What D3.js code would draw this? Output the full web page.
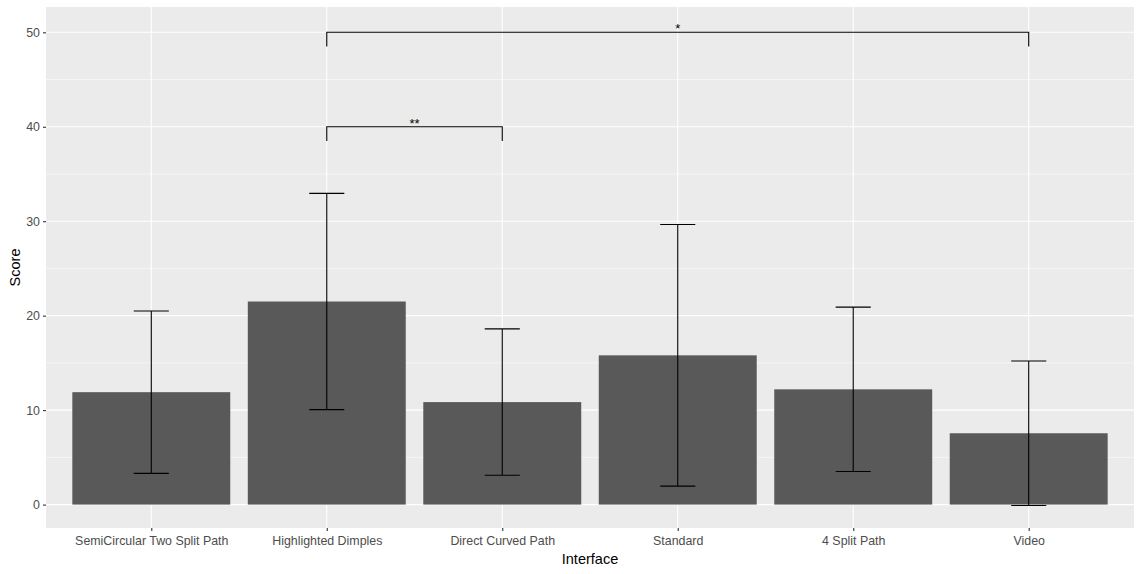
<!DOCTYPE html>
<html>
<head>
<meta charset="utf-8">
<script src="https://cdn.jsdelivr.net/npm/d3@7"></script>
<style>
  body { margin: 0; background: #fff; }
  text { font-family: "Liberation Sans", Arial, sans-serif; }
</style>
</head>
<body>
<div id="container"></div>
<script>
// chart data
const interfaces = ["SemiCircular Two Split Path", "Highlighted Dimples", "Direct Curved Path", "Standard", "4 Split Path", "Video"];
const meanScore = [11.9, 21.5, 10.85, 15.8, 12.2, 7.55];
const sdScore = [8.6, 11.45, 7.75, 13.85, 8.7, 7.65];
const yTicks = [0, 10, 20, 30, 40, 50];
const yMinor = [5, 15, 25, 35, 45];
// significance brackets: [from, to, height, label]
const sigPairs = [
  ["Highlighted Dimples", "Direct Curved Path", 40, "**"],
  ["Highlighted Dimples", "Video", 50, "*"]
];

const width = 1142;
const height = 574;
const marginTop = 7;
const marginRight = 8;
const marginBottom = 46;
const marginLeft = 46;

const data = interfaces.map((d, i) => ({name: d, mean: meanScore[i], sd: sdScore[i]}));

// ggplot style discrete scale: 0.6 band expansion on each side
const x = d3.scalePoint()
    .domain(interfaces)
    .range([marginLeft, width - marginRight])
    .padding(0.6);
const step = x.step();

const y = d3.scaleLinear()
    .domain([-2.48, 52.68])
    .range([height - marginBottom, marginTop]);

const svg = d3.create("svg")
    .attr("width", width)
    .attr("height", height)
    .attr("viewBox", [0, 0, width, height]);

// panel background
svg.append("rect")
    .attr("x", marginLeft)
    .attr("y", marginTop)
    .attr("width", width - marginLeft - marginRight)
    .attr("height", height - marginTop - marginBottom)
    .attr("fill", "#EBEBEB");

// grid lines
const grid = svg.append("g").attr("stroke", "#fff");
grid.selectAll(".minor")
  .data(yMinor)
  .join("line")
    .attr("x1", marginLeft).attr("x2", width - marginRight)
    .attr("y1", d => y(d)).attr("y2", d => y(d))
    .attr("stroke-width", 0.55);
grid.selectAll(".major")
  .data(yTicks)
  .join("line")
    .attr("x1", marginLeft).attr("x2", width - marginRight)
    .attr("y1", d => y(d)).attr("y2", d => y(d))
    .attr("stroke-width", 1.1);
grid.selectAll(".vmajor")
  .data(interfaces)
  .join("line")
    .attr("x1", d => x(d)).attr("x2", d => x(d))
    .attr("y1", marginTop).attr("y2", height - marginBottom)
    .attr("stroke-width", 1.1);

// bars
svg.append("g")
    .attr("fill", "#595959")
  .selectAll()
  .data(data)
  .join("rect")
    .attr("x", d => x(d.name) - step * 0.45)
    .attr("width", step * 0.9)
    .attr("y", d => y(d.mean))
    .attr("height", d => y(0) - y(d.mean));

// error bars
const err = svg.append("g")
    .attr("stroke", "#000")
    .attr("stroke-width", 1.1)
    .attr("fill", "none");
err.selectAll()
  .data(data)
  .join("path")
    .attr("d", d => {
      const cx = x(d.name), hw = step * 0.1;
      const lo = y(d.mean - d.sd), hi = y(d.mean + d.sd);
      return `M${cx - hw},${hi}H${cx + hw}M${cx},${hi}V${lo}M${cx - hw},${lo}H${cx + hw}`;
    });

// significance brackets
const tip = 1.5;
const sig = svg.append("g");
sig.selectAll("path")
  .data(sigPairs)
  .join("path")
    .attr("fill", "none")
    .attr("stroke", "#000")
    .attr("stroke-width", 1.1)
    .attr("d", d => `M${x(d[0])},${y(d[2] - tip)}V${y(d[2])}H${x(d[1])}V${y(d[2] - tip)}`);
sig.selectAll("text")
  .data(sigPairs)
  .join("text")
    .attr("x", d => (x(d[0]) + x(d[1])) / 2)
    .attr("y", d => y(d[2]) + 1)
    .attr("text-anchor", "middle")
    .attr("font-size", 13)
    .attr("fill", "#000")
    .text(d => d[3]);

// x-axis
svg.append("g")
    .attr("transform", `translate(0,${height - marginBottom})`)
    .call(d3.axisBottom(x).tickSize(3).tickPadding(5).tickSizeOuter(0))
    .call(g => g.select(".domain").remove())
    .call(g => g.selectAll(".tick line").attr("stroke", "#333").attr("stroke-width", 1.1))
    .call(g => g.selectAll(".tick text").attr("fill", "#4D4D4D").attr("font-size", 12.4)
        .attr("font-family", "'Liberation Sans', Arial, sans-serif"));

// y-axis
svg.append("g")
    .attr("transform", `translate(${marginLeft},0)`)
    .call(d3.axisLeft(y).tickValues(yTicks).tickSize(3).tickPadding(3))
    .call(g => g.select(".domain").remove())
    .call(g => g.selectAll(".tick line").attr("stroke", "#333").attr("stroke-width", 1.1))
    .call(g => g.selectAll(".tick text").attr("fill", "#4D4D4D").attr("font-size", 12.4)
        .attr("font-family", "'Liberation Sans', Arial, sans-serif"));

// axis titles
svg.append("text")
    .attr("x", (marginLeft + width - marginRight) / 2)
    .attr("y", height - 10)
    .attr("text-anchor", "middle")
    .attr("font-size", 14.5)
    .attr("fill", "#000")
    .text("Interface");
svg.append("text")
    .attr("transform", `translate(20,${(marginTop + height - marginBottom) / 2}) rotate(-90)`)
    .attr("text-anchor", "middle")
    .attr("font-size", 14.5)
    .attr("fill", "#000")
    .text("Score");

container.append(svg.node());
</script>
</body>
</html>
